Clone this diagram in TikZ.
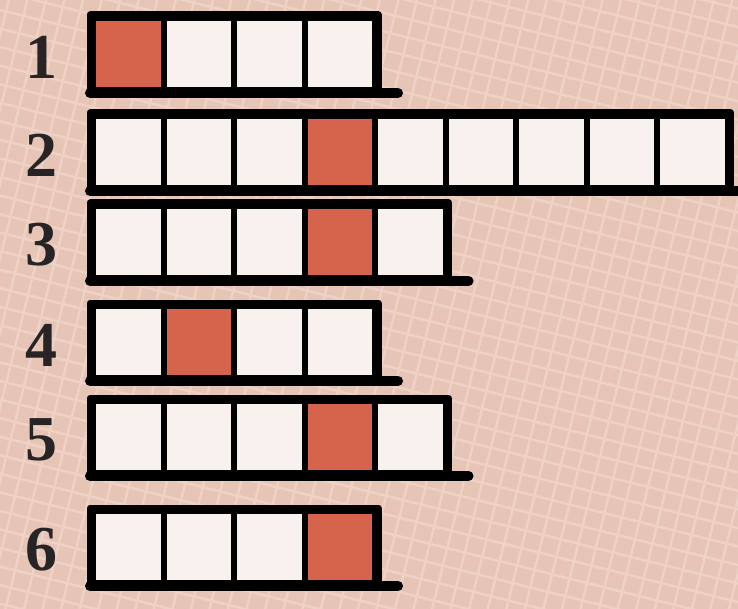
\documentclass[tikz,border=0pt]{standalone}
\usepackage{fontspec}
\setmainfont{Liberation Serif}
\usetikzlibrary{positioning, calc}

\definecolor{paper}{RGB}{231,197,182}
\definecolor{weave}{RGB}{238,210,197}
\definecolor{cellwhite}{RGB}{249,241,238}
\definecolor{cellred}{RGB}{214,99,75}
\definecolor{ink}{RGB}{38,36,36}

\begin{document}
\begin{tikzpicture}[
  x=1pt, y=-1pt,
  cell/.style={rectangle, draw=black, line width=6pt, fill=cellwhite, minimum width=70.5pt, minimum height=72pt, inner sep=0pt, anchor=north west},
  hot/.style={cell, fill=cellred},
  rownum/.style={font=\fontsize{64}{64}\selectfont\bfseries, text=ink, inner sep=0pt},
  frame/.style={draw=black, line width=7pt, line join=round},
  base/.style={draw=black, line width=10pt, line cap=round}
]
  % paper with a woven grid
  \fill[paper] (0,0) rectangle (738,609);
  \begin{scope}
    \clip (0,0) rectangle (738,609);
    \begin{scope}[rotate around={-14:(369,304)}]
      \foreach \k in {-20,...,60}
        \draw[weave, line width=2.5pt] (-200,\k*18) -- (950,\k*18);
      \foreach \k in {-15,...,60}
        \draw[weave, line width=2.5pt] (\k*18,-200) -- (\k*18,850);
    \end{scope}
  \end{scope}
  \useasboundingbox (0,0) rectangle (738,609);

  % row / top / cells / red cell
  \foreach \r/\top/\n/\red in {1/15/4/1, 2/113/9/4, 3/203/5/4, 4/303/4/2, 5/398/5/4, 6/508/4/4} {
    \foreach \c in {1,...,\n} {
      \ifnum\c=\red
        \node[hot] (c\r-\c) at ({90+(\c-1)*70.5},\top) {};
      \else
        \node[cell] (c\r-\c) at ({90+(\c-1)*70.5},\top) {};
      \fi
    }
    \draw[frame] (c\r-1.north west) rectangle (c\r-\n.south east);
    \coordinate (tail\r) at ($(c\r-\n.south east)+(20,0)$);
    \draw[base] (c\r-1.south west) -- (tail\r);
    \node[rownum, left=32pt of c\r-1, yshift=-3pt] (num\r) {\r};
  }
\end{tikzpicture}
\end{document}
